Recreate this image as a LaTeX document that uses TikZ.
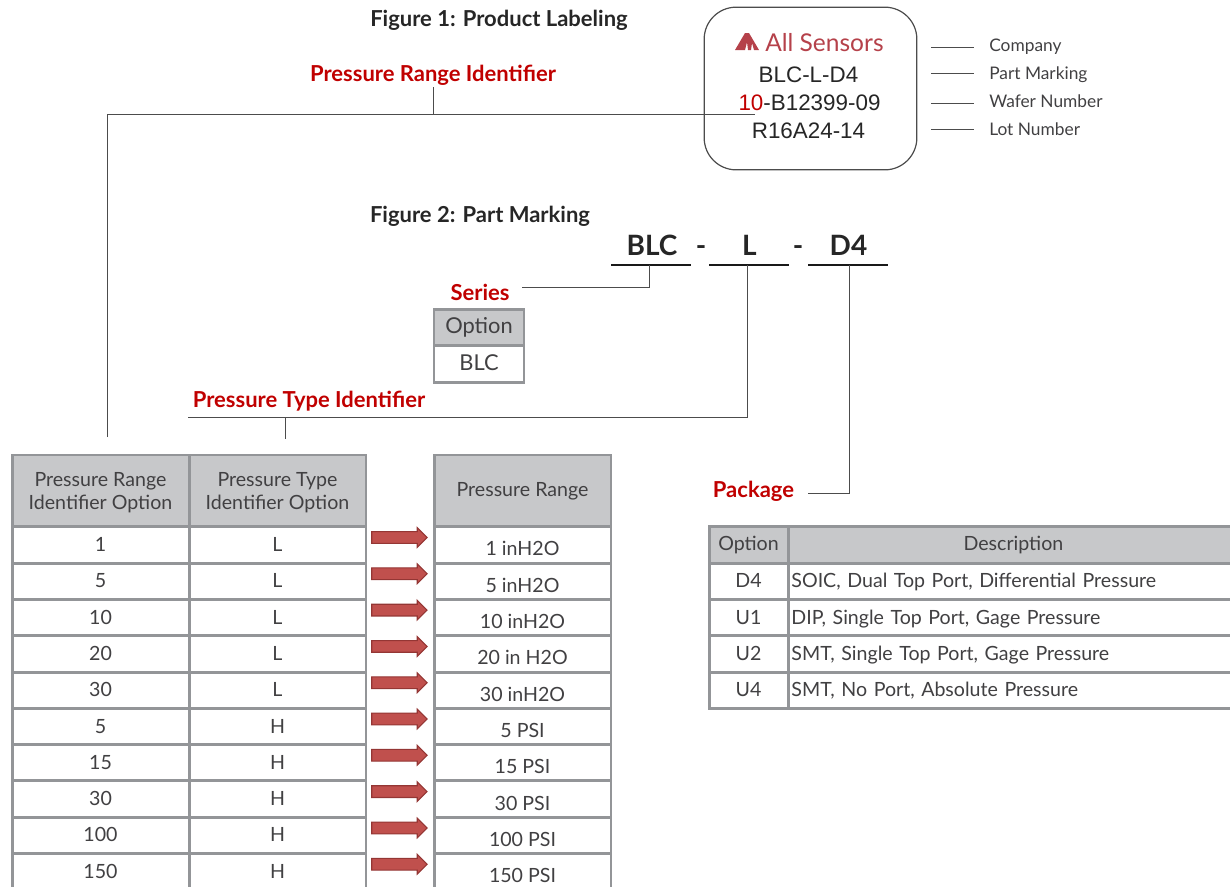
\documentclass[tikz,border=0pt]{standalone}
\usepackage{fontspec}
\usepackage{xcolor}
\setmainfont{Lato}
\newfontfamily\arialfont{Liberation Sans}
\usetikzlibrary{shapes.arrows}
\definecolor{tblLine}{HTML}{939598}
\definecolor{tblHead}{HTML}{C7C8CA}
\definecolor{bodyText}{HTML}{414042}
\definecolor{titleRed}{HTML}{C00000}
\definecolor{logoRed}{HTML}{B5414A}
\definecolor{arrowFill}{HTML}{C0504D}
\definecolor{arrowEdge}{HTML}{943634}
\tikzset{
  cellbox/.style={draw=tblLine, line width=2.2pt, inner sep=0pt, text=bodyText, font=\fontsize{14.7}{17.2}\selectfont, align=center},
  headcell/.style={cellbox, fill=tblHead},
  rowcell/.style={cellbox, fill=white, minimum height=27.2pt, text height=12pt, text depth=2.2pt},
  valcell/.style={cellbox, fill=white, minimum height=27.2pt, text height=18.4pt, text depth=2pt, minimum width=132.7pt},
  leftcell/.style={rowcell, minimum width=132.7pt},
  optcell/.style={rowcell, minimum width=59.2pt},
  desccell/.style={rowcell, minimum width=338pt, text width=333pt, align=left},
  redtitle/.style={text=titleRed, font=\fontsize{16.5}{19}\selectfont\bfseries, inner sep=0pt},
  figtitle/.style={text=black!85, font=\fontsize{16.5}{19}\selectfont\bfseries, inner sep=0pt},
  chiptext/.style={text=black!85, font=\arialfont\fontsize{16.8}{19}\selectfont, inner sep=0pt},
  sidetext/.style={text=bodyText, font=\fontsize{13}{15}\selectfont, inner sep=0pt, anchor=west, text height=10pt, text depth=3pt},
  parttext/.style={text=black!85, font=\fontsize{21}{24}\selectfont\bfseries, inner sep=0pt, text height=15pt, text depth=0pt},
  bararrow/.style={single arrow, draw=arrowEdge, fill=arrowFill, line width=0.8pt, inner xsep=0pt, inner ysep=4pt, minimum height=41.5pt, minimum width=14pt, single arrow head extend=3pt, single arrow tip angle=90},
  leader/.style={draw=black!70, line width=0.7pt},
  partrule/.style={draw=black!90, line width=1.3pt}
}
\begin{document}
\begin{tikzpicture}[x=0.75pt, y=-0.75pt]
  \useasboundingbox (0,0) rectangle (1230,886);
  \clip (0,0) rectangle (1230,886);
  \node[figtitle] (figA) at (499,20) {Figure 1: Product Labeling};
  \node[figtitle] (figB) at (480,216) {Figure 2: Part Marking};
  \node[draw=black!70, line width=0.9pt, rounded corners=24pt, minimum width=159.5pt, minimum height=122pt] (chip) at (810.5,88.5) {};
  \fill[logoRed] (735,50) -- (745,33) -- (749,33) -- (759,50) -- (754,50) -- (752,43) -- (751,50) -- (748,50) -- (747,42) -- (745,50) -- cycle;
  \node[text=logoRed, font=\fontsize{18.4}{21}\selectfont, inner sep=0pt, anchor=west] (brand) at (765,43) {All Sensors};
  \node[chiptext] (partmark) at (808.5,74.5) {BLC-L-D4};
  \node[chiptext] (wafer) at (809.5,103) {\textcolor{titleRed}{10}-B12399-09};
  \node[chiptext] (lot) at (808.5,131) {R16A24-14};
  \node[sidetext] (company) at (989,47) {Company};
  \node[sidetext] (marking) at (989,75) {Part Marking};
  \node[sidetext] (wafnum) at (989,103) {Wafer Number};
  \node[sidetext] (lotnum) at (989,131) {Lot Number};
  \coordinate (tickA) at (931,47.5);
  \coordinate (tickB) at (931,73.5);
  \coordinate (tickC) at (931,103.5);
  \coordinate (tickD) at (931,129.5);
  \draw[leader] (tickA) -- ++(43,0);
  \draw[leader] (tickB) -- ++(43,0);
  \draw[leader] (tickC) -- ++(43,0);
  \draw[leader] (tickD) -- ++(43,0);
  \node[redtitle] (rangeid) at (433,75) {Pressure Range Identifier};
  \coordinate (rangedrop) at (107.5,437);
  \coordinate (rangeend) at (755,114.5);
  \coordinate (rangejoin) at (433.5,114.5);
  \coordinate (rangetop) at (433.5,87);
  \draw[leader] (rangedrop) |- (rangeend);
  \draw[leader] (rangetop) -- (rangejoin);
  \node[parttext] (pblc) at (652,245) {BLC};
  \node[parttext] (dashA) at (701,245) {-};
  \node[parttext] (pl) at (749.5,245) {L};
  \node[parttext] (dashB) at (798,245) {-};
  \node[parttext] (pd) at (848.5,245) {D4};
  \draw[partrule] (611,265) coordinate (ruleA) -- (691,265);
  \draw[partrule] (709,265) coordinate (ruleB) -- (789,265);
  \draw[partrule] (808,265) coordinate (ruleC) -- (888,265);
  \node[redtitle] (series) at (480,292) {Series};
  \coordinate (seriesA) at (522,287.5);
  \coordinate (seriesB) at (649.5,265);
  \draw[leader] (seriesA) -| (seriesB);
  \node[headcell, minimum width=67.5pt, minimum height=27.5pt, font=\fontsize{16.4}{19}\selectfont] (seropt) at (479,327.5) {Option};
  \node[rowcell, minimum width=67.5pt, font=\fontsize{16.4}{19}\selectfont] (serblc) at (479,364) {BLC};
  \node[redtitle] (typeid) at (309,401) {Pressure Type Identifier};
  \coordinate (typeA) at (188,417.5);
  \coordinate (typeB) at (747.5,265);
  \coordinate (typeC) at (285.5,417.5);
  \coordinate (typeD) at (285.5,439);
  \draw[leader] (typeA) -| (typeB);
  \draw[leader] (typeC) -- (typeD);
  \node[redtitle] (package) at (753.5,491) {Package};
  \coordinate (packA) at (808,493.5);
  \coordinate (packB) at (849.5,265);
  \draw[leader] (packA) -| (packB);
  \node[headcell, minimum width=132.7pt, minimum height=54pt] (hrange) at (100.5,491) {\rule{0pt}{13.5pt}Pressure Range\\Identifier Option};
  \node[headcell, minimum width=132.7pt, minimum height=54pt] (htype) at (277.5,491) {\rule{0pt}{13.5pt}Pressure Type\\Identifier Option};
  \node[headcell, minimum width=132.7pt, minimum height=54pt] (hval) at (522.5,491) {Pressure Range};
  \node[leftcell] (ra1) at (100.5,545) {1};
  \node[leftcell] (rb1) at (277.5,545) {L};
  \node[valcell] (rc1) at (522.5,545) {1 inH2O};
  \node[bararrow] (ar1) at (396.5,537.5) {};
  \node[leftcell] (ra2) at (100.5,581.3) {5};
  \node[leftcell] (rb2) at (277.5,581.3) {L};
  \node[valcell] (rc2) at (522.5,581.3) {5 inH2O};
  \node[bararrow] (ar2) at (396.5,573.8) {};
  \node[leftcell] (ra3) at (100.5,617.6) {10};
  \node[leftcell] (rb3) at (277.5,617.6) {L};
  \node[valcell] (rc3) at (522.5,617.6) {10 inH2O};
  \node[bararrow] (ar3) at (396.5,610.1) {};
  \node[leftcell] (ra4) at (100.5,653.9) {20};
  \node[leftcell] (rb4) at (277.5,653.9) {L};
  \node[valcell] (rc4) at (522.5,653.9) {20 in H2O};
  \node[bararrow] (ar4) at (396.5,646.4) {};
  \node[leftcell] (ra5) at (100.5,690.2) {30};
  \node[leftcell] (rb5) at (277.5,690.2) {L};
  \node[valcell] (rc5) at (522.5,690.2) {30 inH2O};
  \node[bararrow] (ar5) at (396.5,682.7) {};
  \node[leftcell] (ra6) at (100.5,726.5) {5};
  \node[leftcell] (rb6) at (277.5,726.5) {H};
  \node[valcell] (rc6) at (522.5,726.5) {5 PSI};
  \node[bararrow] (ar6) at (396.5,719) {};
  \node[leftcell] (ra7) at (100.5,762.8) {15};
  \node[leftcell] (rb7) at (277.5,762.8) {H};
  \node[valcell] (rc7) at (522.5,762.8) {15 PSI};
  \node[bararrow] (ar7) at (396.5,755.3) {};
  \node[leftcell] (ra8) at (100.5,799.1) {30};
  \node[leftcell] (rb8) at (277.5,799.1) {H};
  \node[valcell] (rc8) at (522.5,799.1) {30 PSI};
  \node[bararrow] (ar8) at (396.5,791.6) {};
  \node[leftcell] (ra9) at (100.5,835.4) {100};
  \node[leftcell] (rb9) at (277.5,835.4) {H};
  \node[valcell] (rc9) at (522.5,835.4) {100 PSI};
  \node[bararrow] (ar9) at (396.5,827.9) {};
  \node[leftcell] (ra10) at (100.5,871.7) {150};
  \node[leftcell] (rb10) at (277.5,871.7) {H};
  \node[valcell] (rc10) at (522.5,871.7) {150 PSI};
  \node[bararrow] (ar10) at (396.5,864.2) {};
  \node[headcell, minimum width=59.2pt, minimum height=27.2pt] (popt) at (748.5,545) {Option};
  \node[headcell, minimum width=338pt, minimum height=27.2pt] (pdesc) at (1013.4,545) {Description};
  \node[optcell] (po1) at (748.5,581.3) {D4};
  \node[desccell] (pd1) at (1013.4,581.3) {SOIC, Dual Top Port, Differential Pressure};
  \node[optcell] (po2) at (748.5,617.6) {U1};
  \node[desccell] (pd2) at (1013.4,617.6) {DIP, Single Top Port, Gage Pressure};
  \node[optcell] (po3) at (748.5,653.9) {U2};
  \node[desccell] (pd3) at (1013.4,653.9) {SMT, Single Top Port, Gage Pressure};
  \node[optcell] (po4) at (748.5,690.2) {U4};
  \node[desccell] (pd4) at (1013.4,690.2) {SMT, No Port, Absolute Pressure};
\end{tikzpicture}
\end{document}
